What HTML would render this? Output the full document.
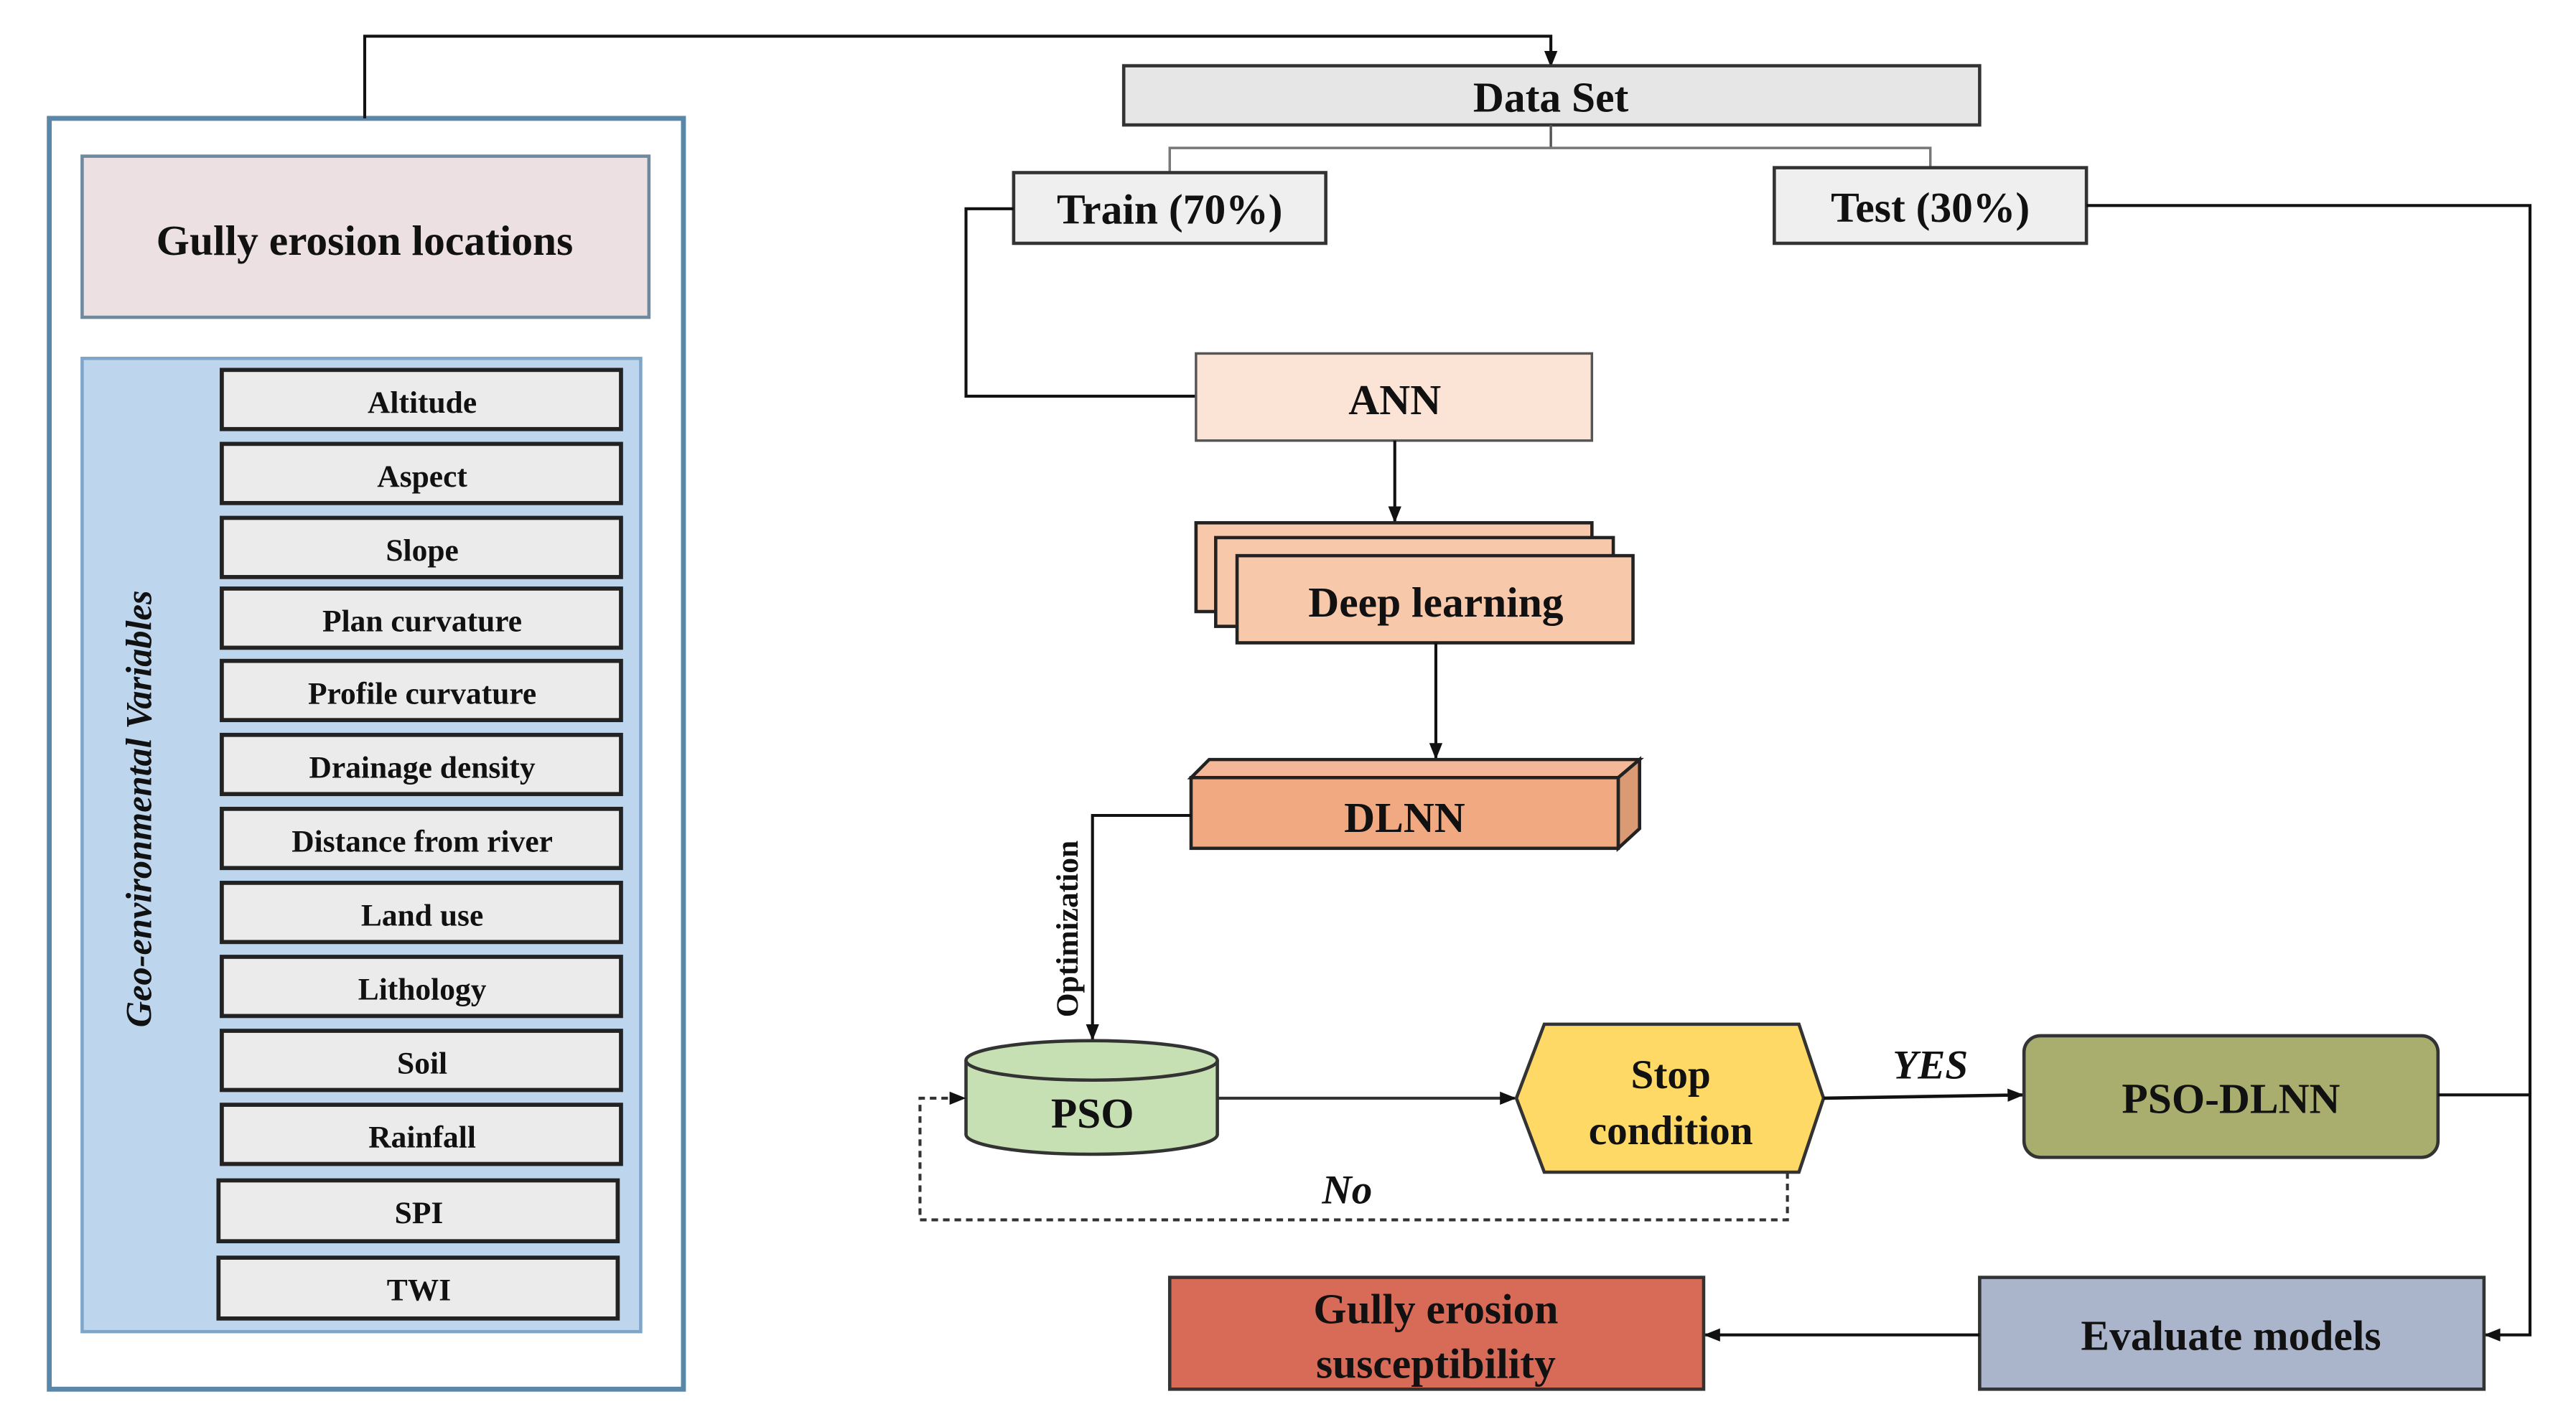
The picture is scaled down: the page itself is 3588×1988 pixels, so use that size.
<!DOCTYPE html>
<html><head><meta charset="utf-8"><style>
html,body{margin:0;padding:0;background:#fff;}
svg{display:block;}
text{font-family:"Liberation Serif",serif;font-weight:bold;fill:#111;}
</style></head><body>
<svg width="3588" height="1988" viewBox="0 0 1568 868" preserveAspectRatio="none" xmlns="http://www.w3.org/2000/svg">
<defs>
<marker id="ar" markerWidth="10" markerHeight="10" refX="9" refY="5" orient="auto" markerUnits="userSpaceOnUse">
<path d="M0,1 L10,5 L0,9 Z" fill="#111"/></marker>
</defs>
<rect width="1568" height="868" fill="#fff"/>

<rect x="30" y="72" width="386" height="773" fill="#fff" stroke="#5a86a8" stroke-width="3"/>
<polyline points="222,72 222,22 944,22 944,40" fill="none" stroke="#111" stroke-width="1.8" marker-end="url(#ar)"/>
<rect x="50" y="95" width="345" height="98" fill="#ece0e2" stroke="#6f8a9f" stroke-width="2"/>
<text x="222" y="155" font-size="26" text-anchor="middle">Gully erosion locations</text>
<rect x="50" y="218" width="340" height="592" fill="#bdd6ee" stroke="#7fa5c8" stroke-width="2"/>
<text transform="translate(92,492) rotate(-90)" font-size="22" font-style="italic" text-anchor="middle">Geo-environmental Variables</text>
<g stroke="#222" stroke-width="2.5" fill="#ebebeb">
<rect x="135" y="225" width="243" height="36"/>
<rect x="135" y="270" width="243" height="36"/>
<rect x="135" y="315" width="243" height="36"/>
<rect x="135" y="358" width="243" height="36"/>
<rect x="135" y="402" width="243" height="36"/>
<rect x="135" y="447" width="243" height="36"/>
<rect x="135" y="492" width="243" height="36"/>
<rect x="135" y="537" width="243" height="36"/>
<rect x="135" y="582" width="243" height="36"/>
<rect x="135" y="627" width="243" height="36"/>
<rect x="135" y="672" width="243" height="36"/>
<rect x="133" y="718" width="243" height="37"/>
<rect x="133" y="765" width="243" height="37"/>
</g>
<g font-size="19" text-anchor="middle">
<text x="257" y="251">Altitude</text>
<text x="257" y="296">Aspect</text>
<text x="257" y="341">Slope</text>
<text x="257" y="384">Plan curvature</text>
<text x="257" y="428">Profile curvature</text>
<text x="257" y="473">Drainage density</text>
<text x="257" y="518">Distance from river</text>
<text x="257" y="563">Land use</text>
<text x="257" y="608">Lithology</text>
<text x="257" y="653">Soil</text>
<text x="257" y="698">Rainfall</text>
<text x="255" y="744">SPI</text>
<text x="255" y="791">TWI</text>
</g>

<rect x="684" y="40" width="521" height="36" fill="#e6e6e6" stroke="#333" stroke-width="2"/>
<text x="944" y="68" font-size="26" text-anchor="middle">Data Set</text>
<polyline points="944,76 944,90" fill="none" stroke="#555" stroke-width="1.5"/>
<polyline points="712,105 712,90 1175,90 1175,102" fill="none" stroke="#777" stroke-width="1.5"/>
<rect x="617" y="105" width="190" height="43" fill="#efefef" stroke="#333" stroke-width="2"/>
<text x="712" y="136" font-size="26" text-anchor="middle">Train (70%)</text>
<rect x="1080" y="102" width="190" height="46" fill="#efefef" stroke="#333" stroke-width="2"/>
<text x="1175" y="135" font-size="26" text-anchor="middle">Test (30%)</text>

<polyline points="617,127 588,127 588,241 728,241" fill="none" stroke="#111" stroke-width="1.8"/>
<rect x="728" y="215" width="241" height="53" fill="#fbe3d6" stroke="#555" stroke-width="1.5"/>
<text x="849" y="252" font-size="26" text-anchor="middle">ANN</text>
<line x1="849" y1="268" x2="849" y2="317" stroke="#111" stroke-width="1.8" marker-end="url(#ar)"/>

<rect x="728" y="318" width="241" height="54" fill="#f8c8ab" stroke="#222" stroke-width="2"/>
<rect x="740" y="327" width="242" height="54" fill="#f8c8ab" stroke="#222" stroke-width="2"/>
<rect x="753" y="338" width="241" height="53" fill="#f8c8ab" stroke="#222" stroke-width="2"/>
<text x="874" y="375" font-size="26" text-anchor="middle">Deep learning</text>
<line x1="874" y1="391" x2="874" y2="461" stroke="#111" stroke-width="1.8" marker-end="url(#ar)"/>

<polygon points="725,473 736,462 998,462 985,473" fill="#f4b898" stroke="#222" stroke-width="2"/>
<polygon points="985,473 998,462 998,504 985,516" fill="#d99a74" stroke="#222" stroke-width="2"/>
<rect x="725" y="473" width="260" height="43" fill="#f0a980" stroke="#222" stroke-width="2"/>
<text x="855" y="506" font-size="26" text-anchor="middle">DLNN</text>
<polyline points="725,496 665,496 665,632" fill="none" stroke="#111" stroke-width="1.8" marker-end="url(#ar)"/>
<text transform="translate(656,565) rotate(-90)" font-size="19" text-anchor="middle">Optimization</text>

<path d="M588,645 L588,690 A76,12 0 0 0 741,690 L741,645" fill="#c6e0b4" stroke="#333" stroke-width="2"/>
<ellipse cx="664.5" cy="645" rx="76.5" ry="12" fill="#c6e0b4" stroke="#333" stroke-width="2"/>
<text x="665" y="686" font-size="26" text-anchor="middle">PSO</text>
<line x1="741" y1="668" x2="922" y2="668" stroke="#333" stroke-width="1.8" marker-end="url(#ar)"/>

<polygon points="940,623 1095,623 1110,668 1095,713 940,713 923,668" fill="#ffd966" stroke="#333" stroke-width="2"/>
<text x="1017" y="662" font-size="25" text-anchor="middle">Stop</text>
<text x="1017" y="696" font-size="25" text-anchor="middle">condition</text>
<text x="1175" y="656" font-size="25" font-style="italic" text-anchor="middle">YES</text>
<line x1="1110" y1="668" x2="1231" y2="666" stroke="#111" stroke-width="2" marker-end="url(#ar)"/>

<rect x="1232" y="630" width="252" height="74" rx="10" fill="#a9ad6e" stroke="#333" stroke-width="2"/>
<text x="1358" y="677" font-size="26" text-anchor="middle">PSO-DLNN</text>

<polyline points="1484,666 1540,666" fill="none" stroke="#111" stroke-width="1.8"/>
<polyline points="1270,125 1540,125 1540,812 1513,812" fill="none" stroke="#111" stroke-width="1.8" marker-end="url(#ar)"/>

<polyline points="1088,713 1088,742 560,742 560,668 587,668" fill="none" stroke="#333" stroke-width="1.8" stroke-dasharray="4,3" marker-end="url(#ar)"/>
<text x="820" y="732" font-size="25" font-style="italic" text-anchor="middle">No</text>

<rect x="1205" y="777" width="307" height="68" fill="#aab4cb" stroke="#333" stroke-width="2"/>
<text x="1358" y="821" font-size="26" text-anchor="middle">Evaluate models</text>
<line x1="1205" y1="812" x2="1038" y2="812" stroke="#111" stroke-width="1.8" marker-end="url(#ar)"/>
<rect x="712" y="777" width="325" height="68" fill="#d86a58" stroke="#333" stroke-width="2"/>
<text x="874" y="805" font-size="26" text-anchor="middle">Gully erosion</text>
<text x="874" y="838" font-size="26" text-anchor="middle">susceptibility</text>
</svg>
</body></html>
